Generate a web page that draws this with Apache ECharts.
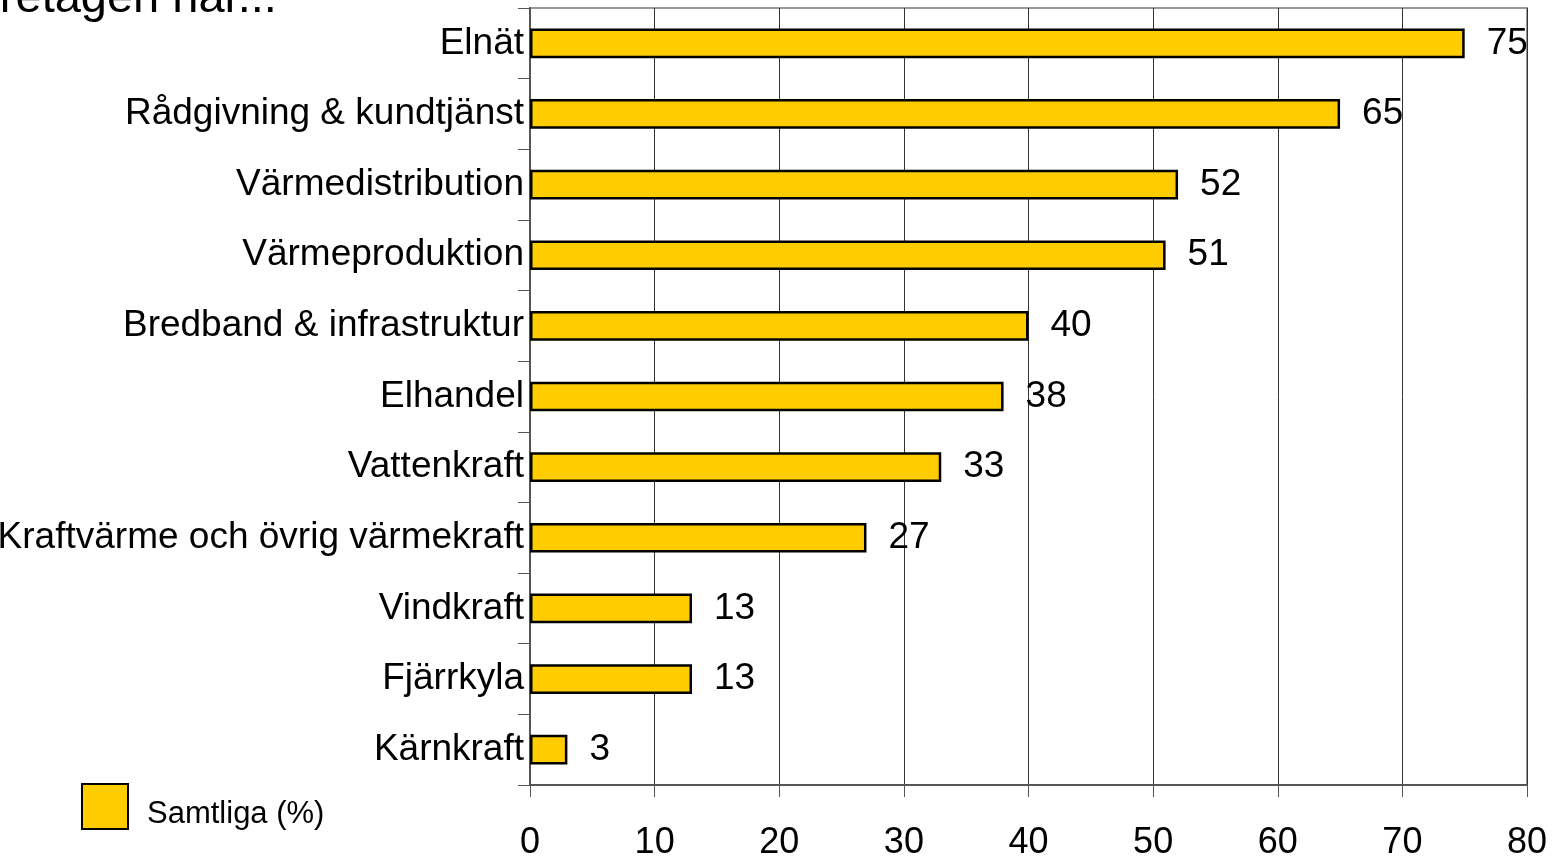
<!DOCTYPE html>
<html>
<head>
<meta charset="utf-8">
<script src="https://cdn.jsdelivr.net/npm/echarts@6/dist/echarts.min.js"></script>
<style>
  html, body { margin: 0; padding: 0; background: #fff; }
  #chart { width: 1567px; height: 859px; }
</style>
</head>
<body>
<div id="chart"></div>
<script>
// categories listed bottom to top (category axis on y starts at bottom)
const categories = [
  'Kärnkraft',
  'Fjärrkyla',
  'Vindkraft',
  'Kraftvärme och övrig värmekraft',
  'Vattenkraft',
  'Elhandel',
  'Bredband & infrastruktur',
  'Värmeproduktion',
  'Värmedistribution',
  'Rådgivning & kundtjänst',
  'Elnät',
]
const values = [3, 13, 13, 27, 33, 38, 40, 51, 52, 65, 75]
const seriesName = 'Samtliga (%)'

const chart = echarts.init(document.getElementById('chart'))
const font = 'Liberation Sans, Arial, sans-serif'

chart.setOption({
  animation: false,
  textStyle: { fontFamily: font },
  title: {
    text: 'Företagen har...',
    left: -60,
    top: -29,
    textStyle: { fontSize: 47, fontWeight: 'normal', color: '#000', fontFamily: font },
  },
  legend: {
    data: [seriesName],
    left: 76,
    top: 778,
    orient: 'vertical',
    icon: 'rect',
    itemWidth: 46,
    itemHeight: 45,
    formatter: '{t|{name}}',
    textStyle: {
      color: '#000',
      rich: {
        t: { fontSize: 31, color: '#000', fontFamily: font, padding: [16, 0, 0, 14] },
      },
    },
    itemStyle: { borderColor: '#000', borderWidth: 2 },
  },
  grid: {
    left: 530,
    right: 40,
    top: 8,
    bottom: 74,
    outerBoundsMode: 'none',
    show: true,
    borderColor: '#999',
    borderWidth: 2,
  },
  xAxis: {
    type: 'value',
    min: 0,
    max: 80,
    interval: 10,
    axisLine: { show: true, lineStyle: { color: '#555', width: 2 } },
    axisTick: { show: true, length: 12, lineStyle: { color: '#555', width: 1 } },
    axisLabel: { color: '#000', fontSize: 36, margin: 40 },
    splitLine: { show: true, lineStyle: { color: '#333', width: 1 } },
  },
  yAxis: {
    type: 'category',
    data: categories,
    axisLine: { show: true, lineStyle: { color: '#555', width: 2 } },
    axisTick: { show: true, length: 12, lineStyle: { color: '#555', width: 1 } },
    axisLabel: { color: '#000', fontSize: 37, margin: 6 },
  },
  series: [
    {
      name: seriesName,
      type: 'bar',
      data: values,
      barWidth: '42%',
      itemStyle: { color: '#FFCC00', borderColor: '#000', borderWidth: 2.5 },
      label: {
        show: true,
        position: 'right',
        distance: 22,
        color: '#000',
        fontSize: 37,
      },
    },
  ],
})
</script>
</body>
</html>
